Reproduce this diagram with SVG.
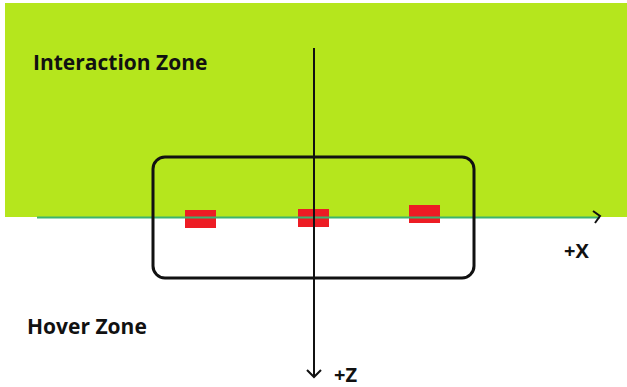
<svg xmlns="http://www.w3.org/2000/svg" width="627" height="387" viewBox="0 0 627 387">
<style>
.lbl{font-family:"Open Sans","Liberation Sans",sans-serif;font-weight:bold;fill:#111;}
.red{fill:#ed1c24;}
.ax{stroke:#111;stroke-width:2;fill:none;}
</style>
<rect x="0" y="0" width="627" height="387" fill="#fff"/>
<rect id="interaction-zone" x="5" y="3" width="622" height="214" fill="#b5e61d"/>
<g id="sensors">
<rect class="red" x="185" y="210" width="31" height="18"/>
<rect class="red" x="298" y="209" width="31" height="18"/>
<rect class="red" x="409" y="205" width="31" height="18"/>
</g>
<g id="connectors">
<line x1="37" y1="217.5" x2="600" y2="217.5" stroke="#3cb46e" stroke-width="2"/>
<polyline class="ax" points="593,211 600,216 595,223"/>
<line class="ax" x1="314" y1="48" x2="314" y2="377"/>
<polyline class="ax" points="307,370 314,377 321,370"/>
</g>
<g id="box"><rect x="153" y="157" width="321" height="121" rx="12" fill="none" stroke="#111" stroke-width="3"/></g>
<text class="lbl" x="33" y="70" font-size="21">Interaction Zone</text>
<text class="lbl" x="27" y="334" font-size="21">Hover Zone</text>
<text class="lbl" x="564" y="258" font-size="20">+X</text>
<text class="lbl" x="334" y="382" font-size="20">+Z</text>
</svg>
